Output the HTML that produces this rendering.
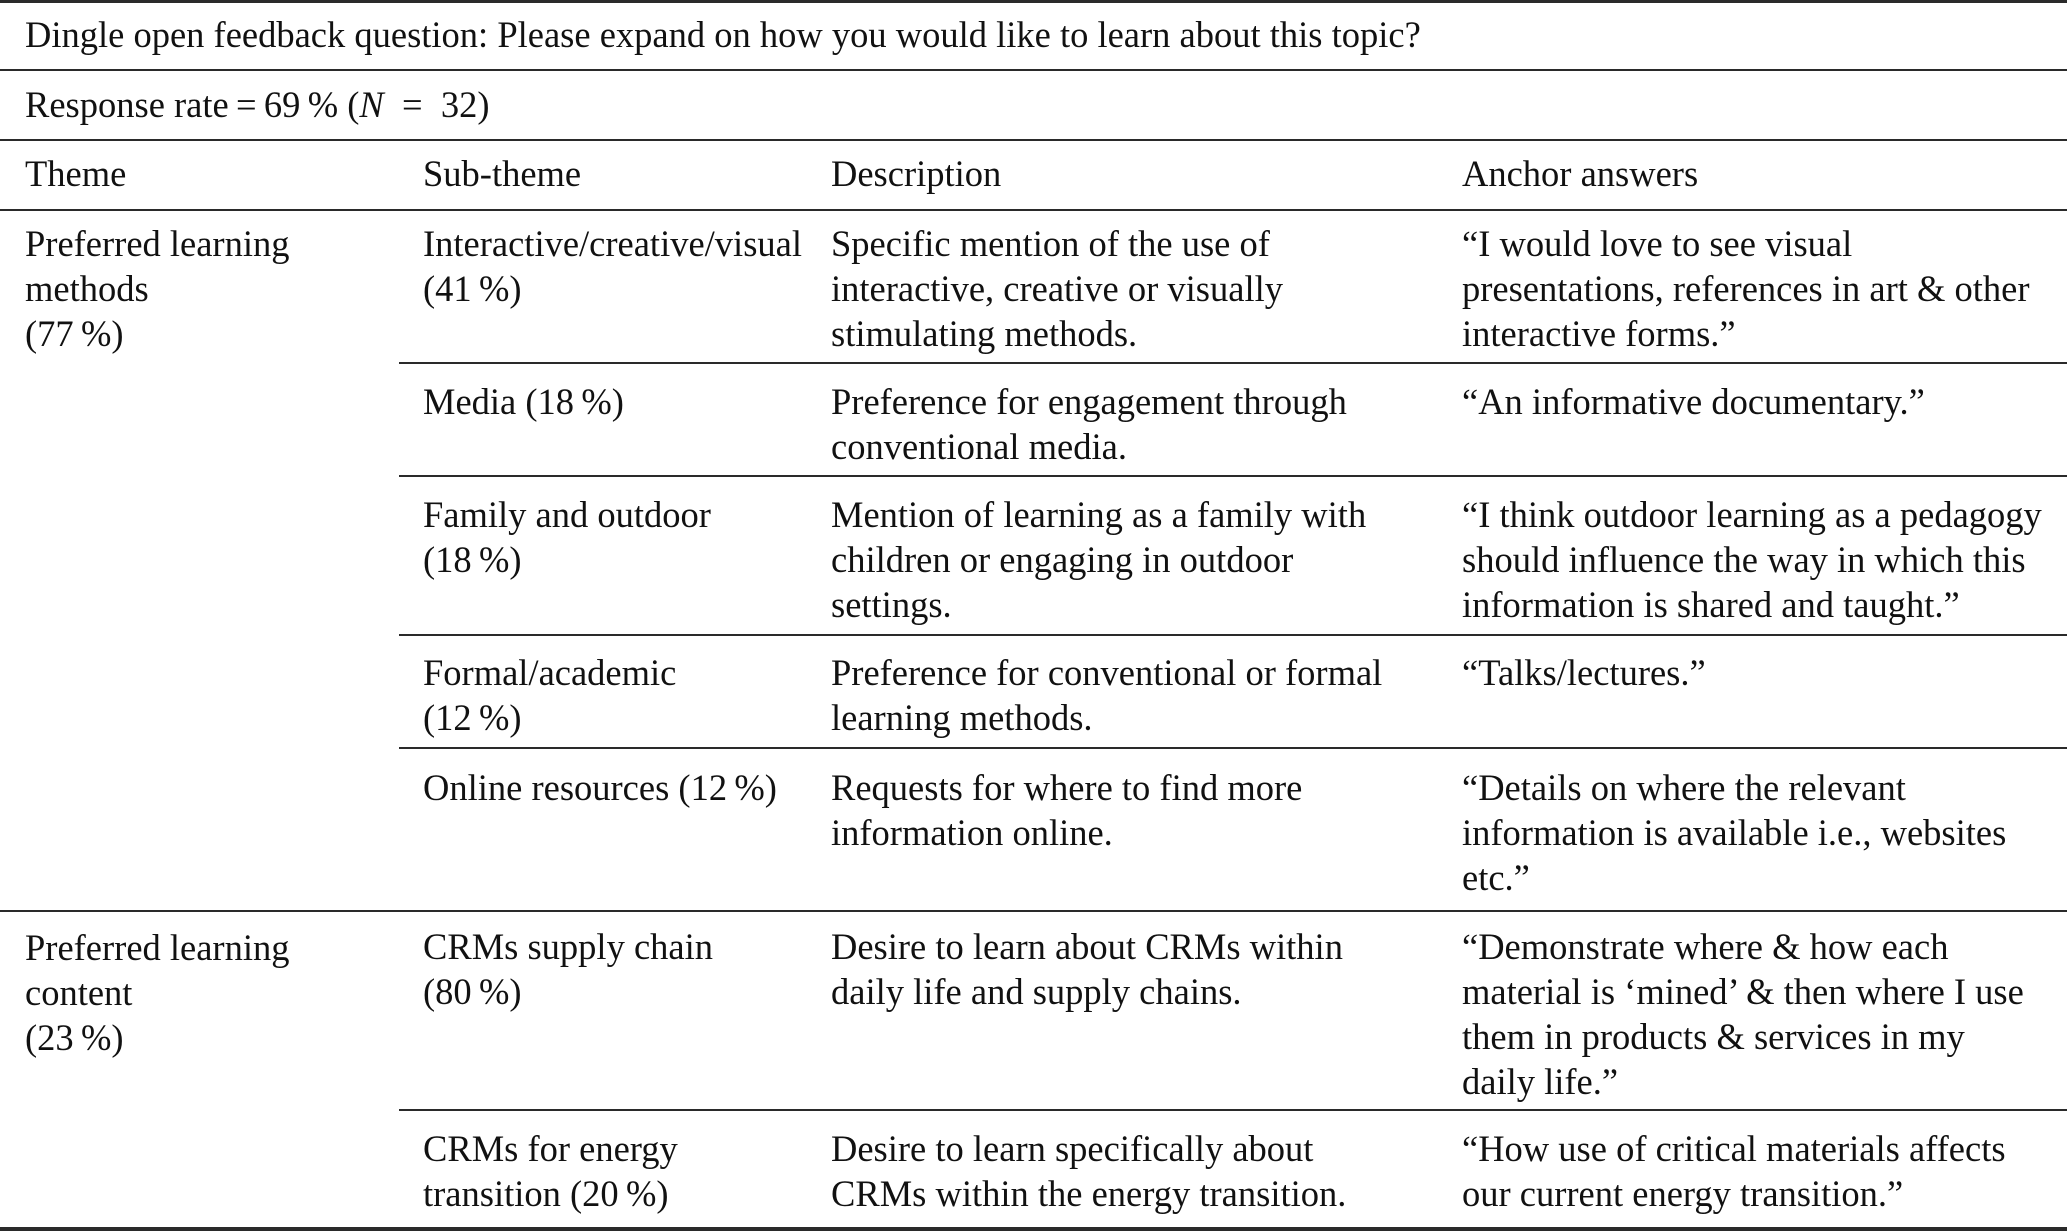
<!DOCTYPE html>
<html>
<head>
<meta charset="utf-8">
<style>
  html, body { margin:0; padding:0; background:#fff; }
  body { width:2067px; height:1231px; position:relative; overflow:hidden;
         font-family:"Liberation Serif","Times New Roman",serif; font-size:36.5px; color:#111; }
  .ln { position:absolute; right:0; background:#2a2a2a; height:2px; }
  .t { position:absolute; line-height:45px; white-space:nowrap; }
  .c1 { left:25px; } .c2 { left:423px; } .c3 { left:831px; } .c4 { left:1462px; }
</style>
</head>
<body>
<!-- rules -->
<div class="ln" style="left:0;top:0;height:3px;"></div>
<div class="ln" style="left:0;top:69px;"></div>
<div class="ln" style="left:0;top:139px;"></div>
<div class="ln" style="left:0;top:209px;"></div>
<div class="ln" style="left:399px;top:362px;"></div>
<div class="ln" style="left:399px;top:475px;"></div>
<div class="ln" style="left:399px;top:634px;"></div>
<div class="ln" style="left:399px;top:747px;"></div>
<div class="ln" style="left:0;top:910px;"></div>
<div class="ln" style="left:399px;top:1109px;"></div>
<div class="ln" style="left:0;top:1227px;height:4px;"></div>

<!-- title rows -->
<div class="t c1" style="top:11.5px;">Dingle open feedback question: Please expand on how you would like to learn about this topic?</div>
<div class="t c1" style="top:81.5px;">Response rate&#8201;=&#8201;69&#8201;% (<i>N</i>&#8194;=&#8194;32)</div>

<!-- header -->
<div class="t c1" style="top:150.5px;">Theme</div>
<div class="t c2" style="top:150.5px;">Sub-theme</div>
<div class="t c3" style="top:150.5px;">Description</div>
<div class="t c4" style="top:150.5px;">Anchor answers</div>

<!-- group 1 -->
<div class="t c1" style="top:220.5px;">Preferred learning<br>methods<br>(77&#8201;%)</div>

<div class="t c2" style="top:220.5px;">Interactive/creative/visual<br>(41&#8201;%)</div>
<div class="t c3" style="top:220.5px;">Specific mention of the use of<br>interactive, creative or visually<br>stimulating methods.</div>
<div class="t c4" style="top:220.5px;">“I would love to see visual<br>presentations, references in art &amp; other<br>interactive forms.”</div>

<div class="t c2" style="top:378.5px;">Media (18&#8201;%)</div>
<div class="t c3" style="top:378.5px;">Preference for engagement through<br>conventional media.</div>
<div class="t c4" style="top:378.5px;">“An informative documentary.”</div>

<div class="t c2" style="top:491.5px;">Family and outdoor<br>(18&#8201;%)</div>
<div class="t c3" style="top:491.5px;">Mention of learning as a family with<br>children or engaging in outdoor<br>settings.</div>
<div class="t c4" style="top:491.5px;">“I think outdoor learning as a pedagogy<br>should influence the way in which this<br>information is shared and taught.”</div>

<div class="t c2" style="top:649.5px;">Formal/academic<br>(12&#8201;%)</div>
<div class="t c3" style="top:649.5px;">Preference for conventional or formal<br>learning methods.</div>
<div class="t c4" style="top:649.5px;">“Talks/lectures.”</div>

<div class="t c2" style="top:764.5px;">Online resources (12&#8201;%)</div>
<div class="t c3" style="top:764.5px;">Requests for where to find more<br>information online.</div>
<div class="t c4" style="top:764.5px;">“Details on where the relevant<br>information is available i.e., websites<br>etc.”</div>

<!-- group 2 -->
<div class="t c1" style="top:924.5px;">Preferred learning<br>content<br>(23&#8201;%)</div>

<div class="t c2" style="top:923.5px;">CRMs supply chain<br>(80&#8201;%)</div>
<div class="t c3" style="top:923.5px;">Desire to learn about CRMs within<br>daily life and supply chains.</div>
<div class="t c4" style="top:923.5px;">“Demonstrate where &amp; how each<br>material is ‘mined’ &amp; then where I use<br>them in products &amp; services in my<br>daily life.”</div>

<div class="t c2" style="top:1125.5px;">CRMs for energy<br>transition (20&#8201;%)</div>
<div class="t c3" style="top:1125.5px;">Desire to learn specifically about<br>CRMs within the energy transition.</div>
<div class="t c4" style="top:1125.5px;">“How use of critical materials affects<br>our current energy transition.”</div>
</body>
</html>
